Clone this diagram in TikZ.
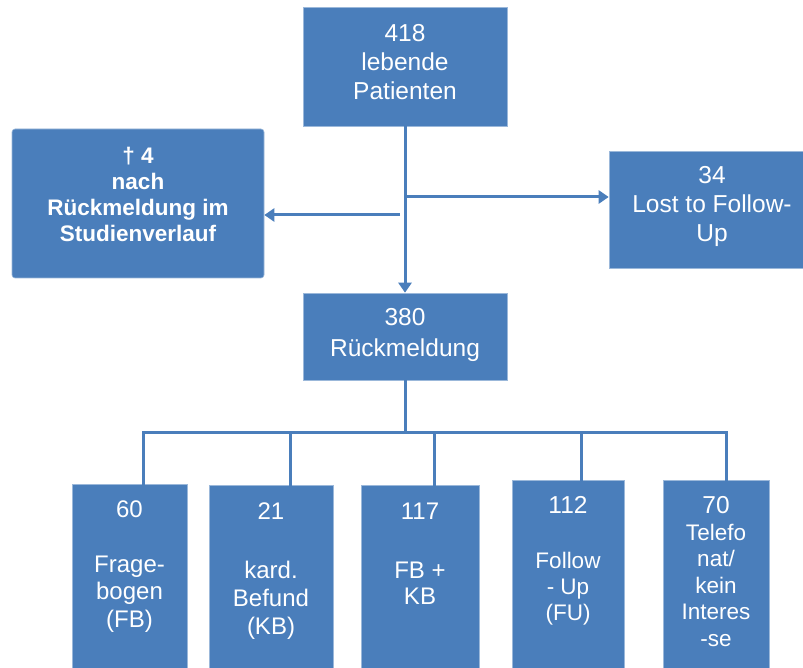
\documentclass[tikz,border=0pt]{standalone}
\usepackage{fontspec}
\setmainfont{Liberation Sans}
\usetikzlibrary{arrows.meta}
\definecolor{boxblue}{RGB}{74,126,187}
\begin{document}
\begin{tikzpicture}[x=1pt,y=-1pt,
    box/.style={fill=boxblue,draw=boxblue!55!white,line width=0.6pt,inner sep=0pt},
    txt/.style={text=white,align=center,anchor=base,inner sep=0pt},
    link/.style={draw=boxblue,line width=3pt,line cap=rect},
    arr/.style={draw=boxblue,line width=3pt,-{Triangle[length=10pt,width=13pt]}}]
\useasboundingbox (0,0) rectangle (803,668);
\node[box,minimum width=204pt,minimum height=119pt] (living) at (405,66.5) {};
\node[box,rounded corners=3pt,minimum width=252pt,minimum height=149pt] (dead) at (138,203.5) {};
\node[box,minimum width=206pt,minimum height=117pt] (lost) at (712,209.5) {};
\node[box,minimum width=204pt,minimum height=87pt] (resp) at (405,336.5) {};
\node[box,minimum width=115pt,minimum height=188pt] (fb) at (129.5,578) {};
\node[box,minimum width=124pt,minimum height=187pt] (kb) at (271,578.5) {};
\node[box,minimum width=118pt,minimum height=187pt] (fbkb) at (420,578.5) {};
\node[box,minimum width=112pt,minimum height=192pt] (fu) at (568,576) {};
\node[box,minimum width=106pt,minimum height=192pt] (tel) at (716,576) {};
\node[txt,font=\fontsize{24.5}{29}\selectfont] (living-t) at (405,100) {418\\lebende\\Patienten};
\node[txt,font=\fontsize{22.5}{26.3}\selectfont\bfseries] (dead-t) at (138,242) {† 4\\nach\\Rückmeldung im\\Studienverlauf};
\node[txt,font=\fontsize{24.5}{29}\selectfont] (lost-t) at (712,242) {34\\Lost to Follow-\\Up};
\node[txt,font=\fontsize{24.5}{31}\selectfont] (resp-t) at (405,356) {380\\Rückmeldung};
\node[txt,font=\fontsize{24}{27.5}\selectfont] (fb-t) at (129.5,627) {60\\[27.5pt]Frage-\\bogen\\(FB)};
\node[txt,font=\fontsize{24}{28}\selectfont] (kb-t) at (271,634) {21\\[31pt]kard.\\Befund\\(KB)};
\node[txt,font=\fontsize{24}{26}\selectfont] (fbkb-t) at (420,604) {117\\[33pt]FB +\\KB};
\node[txt,font=\fontsize{22.5}{26}\selectfont] (fu-t) at (568,620) {{\fontsize{24.5}{26}\selectfont 112}\\[29pt]Follow\\- Up\\(FU)};
\node[txt,font=\fontsize{22.5}{26.5}\selectfont] (tel-t) at (716,646) {{\fontsize{24.5}{26.5}\selectfont 70}\\Telefo\\nat/\\kein\\Interes\\-se};
\coordinate (fork) at (405,197);
\coordinate (split) at (400,215);
\coordinate (bus) at (405,432);
\draw[arr] (living.south) -- (resp.north);
\draw[arr] (fork) -- (fork -| lost.west);
\draw[arr] (split) -- (split -| dead.east);
\draw[link] (resp.south) -- (bus);
\foreach \n/\x/\b in {1/143/fb,2/290/kb,3/434/fbkb,4/581/fu,5/726/tel}{
  \coordinate (j\n) at (\x,432);
  \draw[link] (j\n) -- (j\n |- \b.north);
}
\draw[link] (j1) -- (j5);
\end{tikzpicture}
\end{document}
